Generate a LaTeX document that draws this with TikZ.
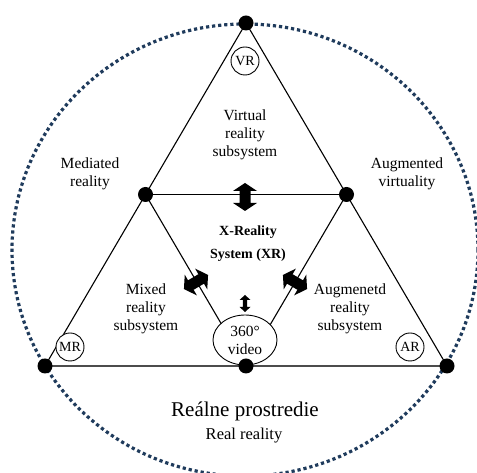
\documentclass[tikz,border=0pt]{standalone}
\usepackage{fontspec}
\setmainfont{Liberation Serif}
\usetikzlibrary{shapes.geometric}
\definecolor{navy}{HTML}{1F3B5C}
\begin{document}
\begin{tikzpicture}[x=1pt,y=1pt,
  edge/.style={line width=1.1pt,black},
  baseedge/.style={line width=2pt,black!70},
  dot/.style={circle,fill=black,inner sep=0pt,minimum size=15pt},
  tag/.style={circle,draw,line width=0.9pt,fill=white,inner sep=0pt,minimum size=28pt,font=\fontsize{14}{16}\selectfont},
  lbl/.style={align=center,font=\fontsize{15.5}{18}\selectfont},
  bigarrow/.pic={\fill[black] (-14,0) -- (-6,12) -- (-6,5.5) -- (6,5.5) -- (6,12) -- (14,0) -- (6,-12) -- (6,-5.5) -- (-6,-5.5) -- (-6,-12) -- cycle;},
  smallarrow/.pic={\fill[black] (-8.5,0) -- (-3.5,5.5) -- (-3.5,2.2) -- (3.5,2.2) -- (3.5,5.5) -- (8.5,0) -- (3.5,-5.5) -- (3.5,-2.2) -- (-3.5,-2.2) -- (-3.5,-5.5) -- cycle;}
]
\clip (0,0) rectangle (477,473);
\fill[white] (0,0) rectangle (477,473);
% outer real-reality boundary
\draw[navy,line width=3.2pt,dash pattern=on 3.2pt off 2.9pt] (245,223) ellipse [x radius=233,y radius=226];
% vertices
\coordinate (T) at (246,450);
\coordinate (BL) at (45,107);
\coordinate (BR) at (447,107);
\coordinate (ML) at (145.5,278.5);
\coordinate (MRt) at (346.5,278.5);
\coordinate (BM) at (246,107);
% triangle edges
\draw[edge] (T) -- (BL);
\draw[edge] (T) -- (BR);
\draw[baseedge] (BL) -- (BR);
\draw[edge] (ML) -- (MRt);
\draw[edge] (ML) -- (BM);
\draw[edge] (MRt) -- (BM);
% 360 video
\node[ellipse,draw,line width=0.9pt,fill=white,minimum width=64pt,minimum height=50pt,inner sep=0pt,lbl] (video) at (245,133) {360°\\video};
% dots
\foreach \p in {T,BL,BR,ML,MRt,BM} \node[dot] at (\p) {};
% tags
\node[tag] (vr) at (245,412) {VR};
\node[tag] (mr) at (70,126) {MR};
\node[tag] (ar) at (410,126) {AR};
% labels
\node[lbl] (vrs) at (245,338) {Virtual\\reality\\subsystem};
\node[lbl] (med) at (90,299.5) {Mediated\\reality};
\node[lbl] (aug) at (407,299.5) {Augmented\\virtuality};
\node[lbl] (mrs) at (146,164) {Mixed\\reality\\subsystem};
\node[lbl] (ars) at (350,164) {Augmenetd\\reality\\subsystem};
\node[align=center,font=\fontsize{14}{16.5}\selectfont\bfseries] (xr) at (248,229.5) {X-Reality\\[6pt]System (XR)};
\node[font=\fontsize{21}{24}\selectfont] (rp) at (245,62) {Reálne prostredie};
\node[font=\fontsize{16.5}{19}\selectfont] (rr) at (244,37) {Real reality};
% block arrows
\pic[rotate=90] at (245,276) {bigarrow};
\pic[rotate=30.4] at (196,191) {bigarrow};
\pic[rotate=-30.4] at (295,191) {bigarrow};
\pic[rotate=90] at (245,169.5) {smallarrow};
\end{tikzpicture}
\end{document}
